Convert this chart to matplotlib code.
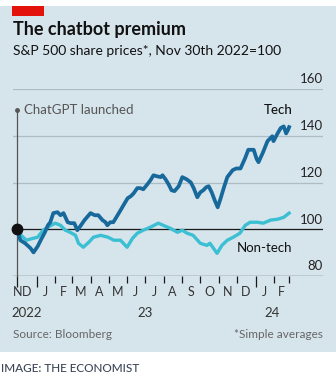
import pandas as pd
import matplotlib
matplotlib.use("Agg")
import matplotlib.pyplot as plt
import matplotlib.dates as mdates
from matplotlib.patches import Rectangle

plt.rcParams['font.family'] = ['Lato', 'DejaVu Sans']

# S&P 500 tech vs non-tech, Nov 30th 2022 = 100
tech_dates = ['2022-11-30', '2022-12-05', '2022-12-13', '2022-12-22', '2022-12-27',
              '2023-01-03', '2023-01-08', '2023-01-15', '2023-01-20', '2023-01-24',
              '2023-01-29', '2023-02-05', '2023-02-10', '2023-02-15', '2023-02-22',
              '2023-02-27', '2023-03-05', '2023-03-10', '2023-03-15', '2023-03-22',
              '2023-03-29', '2023-04-01', '2023-04-08', '2023-04-14', '2023-04-21',
              '2023-04-26', '2023-04-29', '2023-05-04', '2023-05-09', '2023-05-14',
              '2023-05-21', '2023-05-26', '2023-06-02', '2023-06-07', '2023-06-12',
              '2023-06-18', '2023-06-23', '2023-06-28', '2023-07-05', '2023-07-10',
              '2023-07-15', '2023-07-20', '2023-07-27', '2023-07-30', '2023-08-04',
              '2023-08-09', '2023-08-14', '2023-08-19', '2023-08-26', '2023-09-01',
              '2023-09-08', '2023-09-15', '2023-09-20', '2023-09-26', '2023-10-01',
              '2023-10-06', '2023-10-11', '2023-10-15', '2023-10-20', '2023-10-25',
              '2023-10-30', '2023-11-04', '2023-11-09', '2023-11-15', '2023-11-24',
              '2023-11-30', '2023-12-07', '2023-12-15', '2023-12-20', '2023-12-29',
              '2024-01-03', '2024-01-06', '2024-01-13', '2024-01-21', '2024-01-29',
              '2024-01-31', '2024-02-07', '2024-02-12', '2024-02-17', '2024-02-21',
              '2024-02-24', '2024-02-26']
tech = [100, 95.3, 94.0, 91.9, 90.1,
        92.7, 95.3, 98.7, 101.7, 103.0,
        106.9, 107.3, 106.0, 106.9, 103.0,
        102.6, 102.6, 99.6, 101.3, 103.9,
        106.0, 106.9, 106.0, 106.0, 103.9,
        103.0, 101.7, 103.0, 103.0, 105.1,
        108.1, 110.3, 113.3, 114.1, 115.4,
        117.6, 117.6, 117.1, 119.3, 121.0,
        123.1, 122.7, 122.3, 123.1, 121.4,
        119.3, 116.7, 116.3, 118.4, 122.3,
        121.4, 120.1, 117.6, 113.7, 115.8,
        116.7, 118.0, 118.4, 115.8, 112.4,
        109.4, 113.3, 117.6, 122.3, 125.3,
        126.0, 126.0, 130.6, 134.0, 134.0,
        130.0, 128.7, 132.6, 137.7, 139.8,
        137.7, 141.1, 143.3, 144.0, 141.0,
        142.4, 143.7]

nontech_dates = ['2022-11-30', '2022-12-08', '2022-12-15', '2022-12-26', '2023-01-03',
                 '2023-01-12', '2023-01-20', '2023-02-01', '2023-02-10', '2023-02-18',
                 '2023-02-26', '2023-03-07', '2023-03-12', '2023-03-20', '2023-03-29',
                 '2023-04-06', '2023-04-18', '2023-04-30', '2023-05-10', '2023-05-21',
                 '2023-06-01', '2023-06-10', '2023-06-18', '2023-06-28', '2023-07-10',
                 '2023-07-23', '2023-07-31', '2023-08-12', '2023-08-24', '2023-09-01',
                 '2023-09-09', '2023-09-19', '2023-10-01', '2023-10-12', '2023-10-17',
                 '2023-10-29', '2023-11-06', '2023-11-15', '2023-11-25', '2023-12-06',
                 '2023-12-15', '2023-12-23', '2024-01-04', '2024-01-14', '2024-01-26',
                 '2024-02-07', '2024-02-17', '2024-02-26']
nontech = [100, 97.0, 95.3, 96.1, 96.6,
           99.6, 100.9, 102.6, 101.7, 99.6,
           98.7, 97.4, 94.0, 92.3, 94.4,
           96.6, 97.4, 96.6, 95.3, 95.3,
           92.3, 96.1, 98.3, 99.6, 100.9,
           102.6, 101.7, 100.4, 98.7, 99.6,
           98.3, 97.4, 94.0, 93.1, 94.0,
           89.7, 93.1, 95.3, 96.6, 98.3,
           101.7, 103.0, 103.0, 102.6, 103.9,
           104.3, 105.1, 106.9]

month_labels = ['N', 'D', 'J', 'F', 'M', 'A', 'M', 'J', 'J', 'A', 'S', 'O', 'N', 'D', 'J', 'F']
month_label_dates = ['2022-11-30', '2022-12-16', '2023-01-16', '2023-02-14', '2023-03-16',
                     '2023-04-15', '2023-05-16', '2023-06-15', '2023-07-16', '2023-08-16',
                     '2023-09-15', '2023-10-16', '2023-11-15', '2023-12-16', '2024-01-16',
                     '2024-02-13']
year_labels = ['2022', '23', '24']
year_label_dates = ['2022-12-16', '2023-07-01', '2024-01-28']

yticks = [80, 100, 120, 140, 160]

BG = '#d6e4ec'
TECH = '#17699c'
NONTECH = '#3bbfd3'
W, H = 336, 380

fig = plt.figure(figsize=(W / 100, H / 100), dpi=100, facecolor='white')
fig.patches.append(Rectangle((0, 1 - 352 / H), 1, (352 - 6) / H, transform=fig.transFigure,
                             facecolor=BG, edgecolor='none', zorder=-2))
fig.patches.append(Rectangle((12 / W, 1 - 16 / H), 32 / W, 10 / H, transform=fig.transFigure,
                             facecolor='#e3120b', edgecolor='none', zorder=-1))

ax = fig.add_axes([13 / W, 1 - 276 / H, 310 / W, (276 - 89) / H])
ax.set_facecolor('none')
for s in ax.spines.values():
    s.set_visible(False)

start = mdates.date2num(pd.Timestamp('2022-11-30'))
ax.set_xlim(start - 4.3 / 0.6, start - 4.3 / 0.6 + 310 / 0.6)
ax.set_ylim(80, 160)

for v in yticks:
    if v in (80, 100):
        ax.axhline(v, color='#1a1a1a', lw=0.9, zorder=2)
    else:
        ax.axhline(v, color='#aebcc4', lw=0.9, zorder=1)
    ax.text(1.0, v + 1.5, str(v), transform=ax.get_yaxis_transform(), ha='right', va='bottom',
            fontsize=9.5, color='#222222')

# month ticks
end = pd.Timestamp(tech_dates[-1])
minor = [pd.Timestamp(f'2023-{m:02d}-01') for m in range(2, 13)] + [pd.Timestamp('2024-02-01'), end]
major = [pd.Timestamp('2022-11-30'), pd.Timestamp('2023-01-01'), pd.Timestamp('2024-01-01')]
ax.set_xticks(major)
ax.set_xticks(minor, minor=True)
ax.tick_params(axis='x', which='major', length=8, width=0.9, color='#1a1a1a', labelbottom=False)
ax.tick_params(axis='x', which='minor', length=5, width=0.9, color='#1a1a1a', labelbottom=False)
ax.tick_params(axis='y', left=False, labelleft=False)

xt = ax.get_xaxis_transform()
for lab, d in zip(month_labels, month_label_dates):
    ax.text(pd.Timestamp(d), -0.085, lab, transform=xt, ha='center', va='center',
            fontsize=9, color='#333333')
for lab, d in zip(year_labels, year_label_dates):
    ax.text(pd.Timestamp(d), -0.2, lab, transform=xt, ha='center', va='center',
            fontsize=9.5, color='#333333')

# ChatGPT launch marker
launch = pd.Timestamp('2022-11-30')
ax.plot([launch, launch], [80, 151], color='#555555', lw=0.9, zorder=2, clip_on=False)
ax.plot([launch], [151], 'o', color='#555555', ms=2.5, zorder=3, clip_on=False)
ax.text(launch + pd.Timedelta(days=12), 151, 'ChatGPT launched', ha='left', va='center',
        fontsize=9.5, color='#555555')

ax.plot(pd.to_datetime(nontech_dates), nontech, color=NONTECH, lw=2.4, zorder=4,
        solid_joinstyle='round')
ax.plot(pd.to_datetime(tech_dates), tech, color=TECH, lw=2.7, zorder=5,
        solid_joinstyle='round')
ax.plot([launch], [100], 'o', color='#111111', ms=7.5, zorder=6, clip_on=False)

ax.text(pd.Timestamp('2024-03-02'), 148.5, 'Tech', ha='right', va='bottom', fontsize=9.5,
        color='#111111', fontweight='medium')
ax.text(pd.Timestamp('2024-03-02'), 89.5, 'Non-tech', ha='right', va='bottom', fontsize=9.5,
        color='#111111')

fig.text(13 / W, 1 - 30 / H, 'The chatbot premium', fontsize=13, fontweight='bold',
         color='#111111', va='center')
fig.text(13 / W, 1 - 51 / H, 'S&P 500 share prices*, Nov 30th 2022=100', fontsize=10,
         color='#111111', va='center')
fig.text(13 / W, 1 - 335 / H, 'Source: Bloomberg', fontsize=8.5, color='#666666', va='center')
fig.text(323 / W, 1 - 335 / H, '*Simple averages', fontsize=8.5, color='#666666', va='center',
         ha='right')
fig.text(1 / W, 1 - 369 / H, 'IMAGE: THE ECONOMIST', fontsize=8.5, color='#3c4556',
         va='center', fontweight='medium')

fig.savefig('out.png', dpi=100, facecolor='white')
